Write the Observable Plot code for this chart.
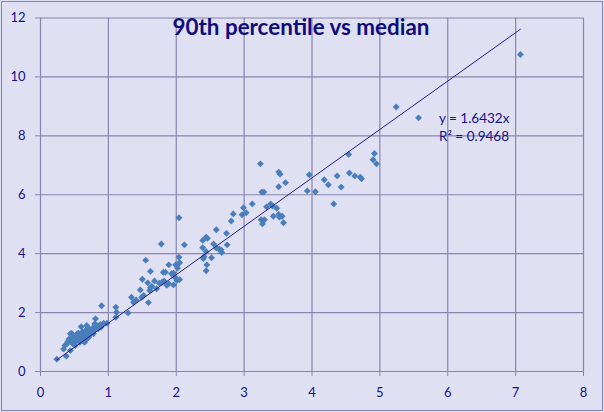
<!DOCTYPE html>
<html><head><meta charset="utf-8">
<script src="https://cdn.jsdelivr.net/npm/d3@7"></script>
<script src="https://cdn.jsdelivr.net/npm/@observablehq/plot@0.6"></script>
<style>
html,body{margin:0;padding:0;background:#dfe0f2;}
#wrap{position:relative;width:604px;height:412px;background:#dfe0f2;overflow:hidden;}
#wrap svg{position:absolute;left:0;top:0;}
#border{position:absolute;left:1px;top:1px;width:602px;height:410px;border:1px solid #8886ae;box-sizing:border-box;pointer-events:none;z-index:2;}
</style></head><body><div id="wrap"><div id="border"></div></div>
<script>
// Median (x) and 90th percentile (y) values
const medians = [
  7.07, 5.24, 5.57, 4.54, 4.92, 4.90, 4.95, 4.18, 4.24, 4.37, 4.43, 4.55, 4.63, 4.71, 4.73,
  3.96, 3.93, 4.05, 4.32, 3.24, 3.51, 3.53, 3.61, 3.51, 3.26, 3.29, 3.12, 3.39, 3.33, 3.42,
  3.48, 3.43, 3.51, 3.52, 3.56, 3.58, 3.25, 3.30, 3.27, 2.99, 3.03, 2.97, 2.84, 2.81, 2.59,
  2.74, 2.75, 2.44, 2.46, 2.39, 2.55, 2.59, 2.66, 2.67, 2.39, 2.44, 2.52, 2.40, 2.45, 2.44,
  2.41, 2.63, 2.04, 1.78, 2.12, 1.55, 2.04, 1.62, 1.81, 1.84, 1.89, 1.99, 2.03, 2.02, 2.05,
  1.93, 1.96, 1.50, 1.58, 1.68, 1.75, 1.79, 1.82, 1.86, 1.89, 1.96, 2.01, 2.05, 1.62, 1.64,
  1.61, 1.47, 1.52, 1.49, 1.34, 1.41, 1.37, 1.59, 1.11, 0.90, 1.98, 1.71, 1.12, 1.11, 1.29,
  0.93, 0.89, 0.98, 0.81, 0.80, 0.60, 0.65, 0.24, 0.38, 0.34, 0.36, 0.39,
  0.40, 0.42, 0.44, 0.44, 0.45, 0.46, 0.47, 0.48, 0.50, 0.51, 0.52, 0.53, 0.54, 0.55, 0.56,
  0.57, 0.58, 0.58, 0.60, 0.61, 0.62, 0.63, 0.64, 0.65, 0.66, 0.67, 0.68, 0.68, 0.69, 0.70,
  0.71, 0.71, 0.72, 0.73, 0.75, 0.76, 0.77, 0.78, 0.79, 0.82, 0.84, 0.85, 0.88
];
const p90 = [
  10.76, 8.98, 8.61, 7.37, 7.40, 7.19, 7.05, 6.51, 6.34, 6.64, 6.26, 6.74, 6.64, 6.60, 6.54,
  6.68, 6.13, 6.10, 5.69, 7.05, 6.77, 6.70, 6.41, 6.27, 6.09, 6.09, 5.69, 5.69, 5.59, 5.62,
  5.54, 5.27, 5.33, 5.24, 5.27, 5.05, 5.15, 5.15, 5.01, 5.56, 5.39, 5.32, 5.35, 5.11, 4.81,
  4.69, 4.30, 4.56, 4.52, 4.45, 4.33, 4.19, 4.13, 4.04, 4.20, 4.07, 3.86, 3.83, 3.62, 3.42,
  3.90, 4.16, 5.22, 4.33, 4.30, 3.78, 3.88, 3.40, 3.37, 3.37, 3.62, 3.62, 3.66, 3.51, 3.69,
  3.32, 3.34, 3.13, 3.01, 3.07, 3.00, 3.03, 3.07, 2.93, 2.98, 2.94, 3.09, 3.12, 2.84, 2.89,
  2.75, 2.77, 2.58, 2.52, 2.52, 2.43, 2.35, 2.34, 2.18, 2.23, 3.20, 2.81, 2.01, 1.84, 1.99,
  1.64, 1.50, 1.64, 1.79, 1.62, 1.52, 0.99, 0.42, 0.52, 0.76, 0.88, 0.94,
  1.00, 1.10, 0.71, 1.28, 1.05, 1.29, 0.95, 1.18, 1.12, 0.88, 1.02, 1.20, 1.28, 1.10, 1.30,
  1.18, 0.99, 1.08, 1.25, 1.15, 1.35, 1.05, 1.22, 1.30, 1.18, 1.40, 1.56, 1.28, 1.12, 1.35,
  1.45, 1.16, 1.25, 1.42, 1.30, 1.39, 1.48, 1.28, 1.40, 1.50, 1.55, 1.45, 1.60
];
const xTicks = [0, 1, 2, 3, 4, 5, 6, 7, 8];
const yTicks = [0, 2, 4, 6, 8, 10, 12];
const titleText = "90th percentile vs median";
const slope = 1.6432;
const eqText = "y = 1.6432x";
const r2Text = "R² = 0.9468";

const gridColor = "#8886ae";
const labelColor = "#15128a";
const dotColor = "#4a7ebb";
const trendColor = "#231b8c";
const titleColor = "#0f0c7c";

const data = medians.map((m, i) => ({x: m, y: p90[i]}));
const trend = d3.extent(medians).map(x => ({x, y: slope * x}));

const chart = Plot.plot({
  width: 604,
  height: 412,
  marginLeft: 40,
  marginRight: 21,
  marginTop: 17.5,
  marginBottom: 41,
  style: {background: "transparent", fontFamily: "Lato, 'Open Sans', sans-serif", color: labelColor},
  x: {domain: [0, 8]},
  y: {domain: [0, 12]},
  marks: [
    Plot.gridX(xTicks, {stroke: gridColor, strokeOpacity: 1, strokeWidth: 1.2}),
    Plot.gridY(yTicks, {stroke: gridColor, strokeOpacity: 1, strokeWidth: 1.2}),
    Plot.axisX({ticks: xTicks, tickSize: 5, tickPadding: 11, stroke: gridColor, fill: labelColor, fontSize: 13, label: null, strokeOpacity: 1}),
    Plot.axisY({ticks: yTicks, tickSize: 5, tickPadding: 10, stroke: gridColor, fill: labelColor, fontSize: 13, label: null, strokeOpacity: 1}),
    Plot.dot(data, {x: "x", y: "y", symbol: "diamond2", r: 3.1, fill: dotColor, stroke: "none"}),
    Plot.line(trend, {x: "x", y: "y", stroke: trendColor, strokeWidth: 1}),
    Plot.text([titleText], {text: d => d, frameAnchor: "top", lineAnchor: "top", dx: -11, dy: 1, fontSize: 22, fontWeight: "bold", fill: titleColor}),
    Plot.text([eqText], {text: d => d, x: 5.87, y: 8.45, textAnchor: "start", lineAnchor: "bottom", fontSize: 13.5, fill: labelColor}),
    Plot.text([r2Text], {text: d => d, x: 5.87, y: 7.84, textAnchor: "start", lineAnchor: "bottom", fontSize: 13.5, fill: labelColor})
  ]
});
const wrap = document.getElementById("wrap");
wrap.insertBefore(chart, wrap.firstChild);
chart.querySelectorAll("text").forEach(t => {
  if (t.textContent === titleText) {
    t.setAttribute("textLength", 257);
    t.setAttribute("lengthAdjust", "spacingAndGlyphs");
  }
});
</script>
</body></html>
